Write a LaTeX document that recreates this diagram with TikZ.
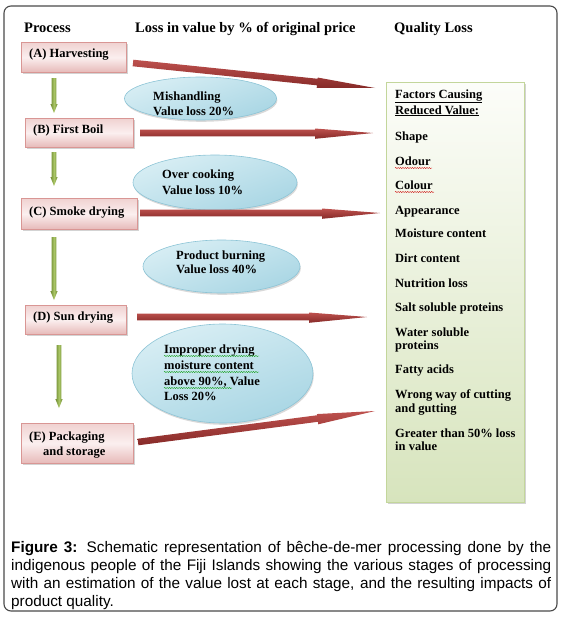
\documentclass[tikz,border=0pt]{standalone}
\usepackage{fontspec}
\setmainfont{Liberation Serif}
\newfontfamily\capfont{Liberation Sans}
\usetikzlibrary{shadows,calc,shapes.geometric,decorations.pathmorphing}
\definecolor{frameC}{HTML}{4A4A4A}
\definecolor{pinkTop}{HTML}{F0D2D1}
\definecolor{pinkMid}{HTML}{FBEFEF}
\definecolor{pinkBot}{HTML}{E6B9B8}
\definecolor{pinkBorder}{HTML}{D99694}
\definecolor{blueA}{HTML}{D8EEF4}
\definecolor{blueB}{HTML}{A9D6E4}
\definecolor{blueBorder}{HTML}{8CC4D6}
\definecolor{greenTop}{HTML}{FCFDF9}
\definecolor{greenBot}{HTML}{D7E4BD}
\definecolor{greenBorder}{HTML}{C3D69B}
\definecolor{redDark}{HTML}{862A28}
\definecolor{redLight}{HTML}{BE514E}
\definecolor{olive}{HTML}{6E8A30}
\definecolor{oliveLight}{HTML}{A9C566}
\newcommand\redarr[2]{%
  \coordinate (hb) at ($(#2)!58pt!(#1)$);
  \shade[top color=redLight, bottom color=redDark]
    ($(#1)!3.3pt!90:(#2)$) -- ($(hb)!3.3pt!90:(#2)$) -- ($(hb)!4.5pt!90:(#2)$)
    -- (#2) -- ($(hb)!5.8pt!-90:(#2)$) -- ($(hb)!3.3pt!-90:(#2)$)
    -- ($(#1)!3.3pt!-90:(#2)$) -- cycle;}
\newcommand\greenarr[2]{%
  \coordinate (gb) at ($(#2)!9pt!(#1)$);
  \shade[left color=olive, right color=olive, middle color=oliveLight]
    ($(#1)!2.4pt!90:(#2)$) -- ($(gb)!2.4pt!90:(#2)$) -- ($(gb)!3.6pt!90:(#2)$)
    -- (#2) -- ($(gb)!3.6pt!-90:(#2)$) -- ($(gb)!2.4pt!-90:(#2)$)
    -- ($(#1)!2.4pt!-90:(#2)$) -- cycle;}
\tikzset{
  txt/.style={inner sep=0, anchor=base west, font=\fontsize{12.5}{15}\selectfont\bfseries},
  hdr/.style={inner sep=0, anchor=base west, font=\fontsize{14.5}{17}\selectfont\bfseries},
  pbox/.style={draw=pinkBorder, line width=0.8pt, top color=pinkTop, bottom color=pinkBot,
    middle color=pinkMid, inner sep=0, anchor=north west,
    drop shadow={shadow xshift=1.8pt, shadow yshift=-1.8pt, opacity=0.35}},
  ebox/.style={ellipse, draw=blueBorder, line width=0.6pt, top color=blueA, bottom color=blueB,
    shading angle=20, inner sep=0,
    drop shadow={shadow xshift=0.8pt, shadow yshift=-1.8pt, opacity=0.3}},
  qbox/.style={draw=greenBorder, line width=0.9pt, top color=greenTop, bottom color=greenBot,
    inner sep=0, anchor=north west,
    drop shadow={shadow xshift=1.8pt, shadow yshift=-1.8pt, opacity=0.35}},
  spellr/.style={red!80!black, line width=0.35pt, decorate,
    decoration={snake, amplitude=0.55pt, segment length=2.4pt}},
  spellg/.style={green!60!black, line width=0.35pt, decorate,
    decoration={snake, amplitude=0.55pt, segment length=2.4pt}},
}
\begin{document}
\begin{tikzpicture}[x=1pt,y=-1pt]
\useasboundingbox (0,0) rectangle (562,618);
\draw[frameC, line width=1.1pt, rounded corners=7pt] (4,6) rectangle (557,611);

% headers
\node[hdr] (h1) at (24,33) {Process};
\node[hdr] (h2) at (135,33) {Loss in value by \% of original price};
\node[hdr] (h3) at (394,33) {Quality Loss};

% quality box
\node[qbox, minimum width=138pt, minimum height=420pt] (Q) at (386,82) {};

% ellipses
\node[ebox, minimum width=152pt, minimum height=43pt] (E1) at (200.5,98.5) {};
\node[ebox, minimum width=164pt, minimum height=55pt] (E2) at (215,182.5) {};
\node[ebox, minimum width=157pt, minimum height=53pt] (E3) at (221.5,266.5) {};
\node[ebox, minimum width=181pt, minimum height=99pt] (E4) at (222.5,373.5) {};

% process boxes
\node[pbox, minimum width=105pt, minimum height=30pt] (A) at (21,42) {};
\node[pbox, minimum width=108pt, minimum height=29pt] (B) at (25,118) {};
\node[pbox, minimum width=116pt, minimum height=31pt] (C) at (21,198) {};
\node[pbox, minimum width=101pt, minimum height=29pt] (D) at (25,305) {};
\node[pbox, minimum width=112pt, minimum height=40pt] (E) at (21,423) {};

\node[txt] (tA) at (29,57) {(A) Harvesting};
\node[txt] (tB) at (33,133) {(B) First Boil};
\node[txt] (tC) at (29,215) {(C) Smoke drying};
\node[txt] (tD) at (33,320) {(D) Sun drying};
\node[txt] (tE1) at (29,440) {(E) Packaging};
\node[txt] (tE2) at (43,455) {and storage};

% green arrows
\coordinate (g1s) at (54,78);  \coordinate (g1e) at (54,113);
\coordinate (g2s) at (54,152); \coordinate (g2e) at (54,186);
\coordinate (g3s) at (54,237); \coordinate (g3e) at (54,300);
\coordinate (g4s) at (59,345); \coordinate (g4e) at (59,408);
\greenarr{g1s}{g1e}
\greenarr{g2s}{g2e}
\greenarr{g3s}{g3e}
\greenarr{g4s}{g4e}

% red arrows
\coordinate (r1s) at (133,63);  \coordinate (r1e) at (375,88);
\coordinate (r2s) at (140,133); \coordinate (r2e) at (373,133);
\coordinate (r3s) at (140,213); \coordinate (r3e) at (380,213);
\coordinate (r4s) at (137,317); \coordinate (r4e) at (367,317);
\coordinate (r5s) at (138,442); \coordinate (r5e) at (375,411);
\redarr{r1s}{r1e}
\redarr{r2s}{r2e}
\redarr{r3s}{r3e}
\redarr{r4s}{r4e}
\redarr{r5s}{r5e}

% ellipse texts
\node[txt] (m1) at (153,100) {Mishandling};
\node[txt] (m2) at (153,115) {Value loss 20\%};
\node[txt] (o1) at (162,178) {Over cooking};
\node[txt] (o2) at (162,194) {Value loss 10\%};
\node[txt] (p1) at (176,259) {Product burning};
\node[txt] (p2) at (176,273) {Value loss 40\%};
\node[txt] (i1) at (164,353) {Improper drying};
\node[txt] (i2) at (164,369) {moisture content};
\node[txt] (i3) at (164,385) {above 90\%, Value};
\node[txt] (i4) at (164,400) {Loss 20\%};
\draw[spellg] (164,356) -- (259,356);
\draw[spellg] (164,372) -- (259,372);
\draw[spellg] (164,388) -- (232,388);

% quality items
\node[txt] (q1) at (395,98) {\underline{Factors Causing}};
\node[txt] (q2) at (395,114) {\underline{Reduced Value:}};
\node[txt] (q3) at (395,140) {Shape};
\node[txt] (q4) at (395,165) {Odour};
\node[txt] (q5) at (395,189) {Colour};
\node[txt] (q6) at (395,214) {Appearance};
\node[txt] (q7) at (395,237) {Moisture content};
\node[txt] (q8) at (395,262) {Dirt content};
\node[txt] (q9) at (395,287) {Nutrition loss};
\node[txt] (q10) at (395,311) {Salt soluble proteins};
\node[txt] (q11) at (395,336) {Water soluble};
\node[txt] (q12) at (395,349) {proteins};
\node[txt] (q13) at (395,373) {Fatty acids};
\node[txt] (q14) at (395,398) {Wrong way of cutting};
\node[txt] (q15) at (395,412) {and gutting};
\node[txt] (q16) at (395,437) {Greater than 50\% loss};
\node[txt] (q17) at (395,450) {in value};
\draw[spellr] (395,168) -- (432,168);
\draw[spellr] (395,192) -- (434,192);

% caption
\node[inner sep=0, anchor=base west] (cap) at (11,552) {\parbox[t]{540pt}{\capfont\fontsize{15.3}{18.3}\selectfont
\textbf{Figure 3:} Schematic representation of bêche-de-mer processing done by the\linebreak
indigenous people of the Fiji Islands showing the various stages of processing\linebreak
with an estimation of the value lost at each stage, and the resulting impacts of\linebreak
product quality.}};
\end{tikzpicture}
\end{document}
